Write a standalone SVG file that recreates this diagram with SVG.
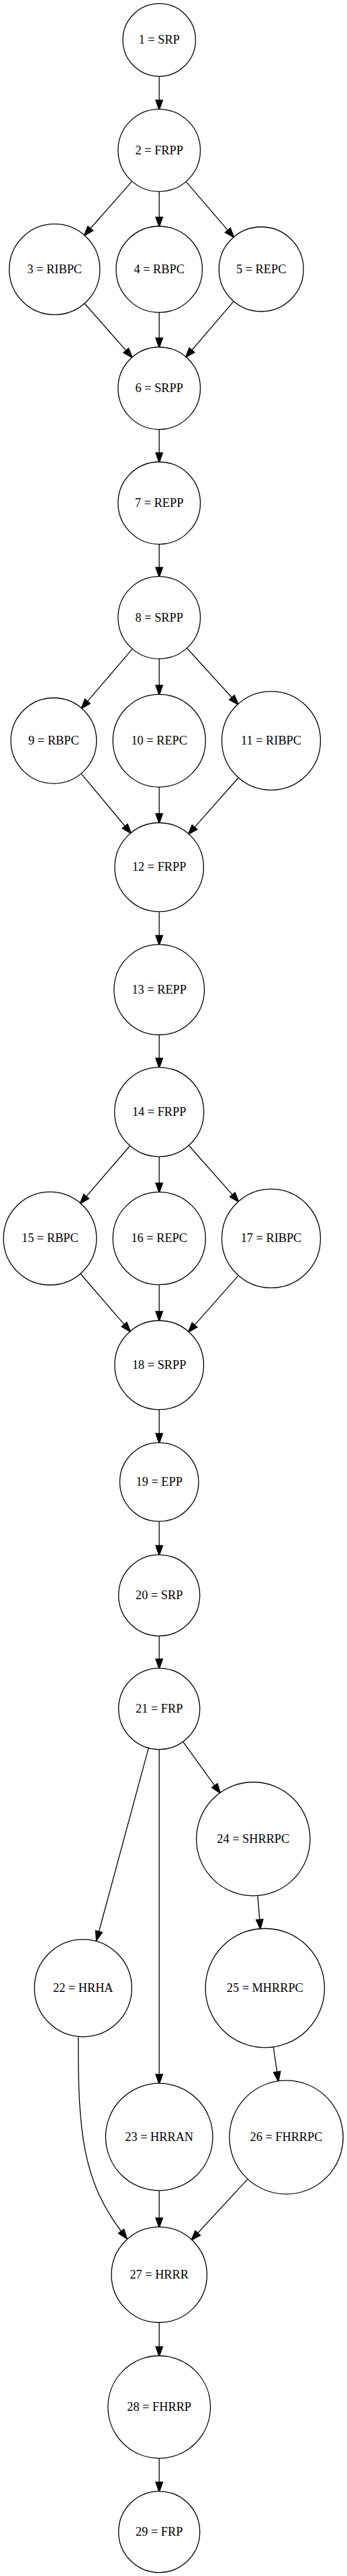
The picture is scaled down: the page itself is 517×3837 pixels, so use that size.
<svg xmlns="http://www.w3.org/2000/svg" width="517" height="3837" viewBox="0 0 517 3837">
<style>
.n circle{fill:#fff;stroke:#000;stroke-width:1.3}
.n text{font-family:"Liberation Serif","Times New Roman",serif;font-size:18.3px;text-anchor:middle;fill:#000}
#edges path{fill:none;stroke:#000;stroke-width:1.3;marker-end:url(#ah)}
</style>
<defs>
<marker id="ah" markerUnits="userSpaceOnUse" markerWidth="20" markerHeight="20" viewBox="-2 -7 18 14" refX="0" refY="0" orient="auto" overflow="visible">
<path d="M0,-4.6 L13,0 L0,4.6 Z" fill="#000" stroke="#000" stroke-width="1.3"/>
</marker>
</defs>
<rect width="517" height="3837" fill="#fff"/>
<g id="edges">
<path d="M237.2,114.2 L237.2,149.2"/>
<path d="M196.4,270.4 L134.8,340.3"/>
<path d="M237.2,285.8 L237.2,323.5"/>
<path d="M277.5,270.9 L339.3,342.9"/>
<path d="M126.2,452.2 L187.8,522.1"/>
<path d="M237.2,465.9 L237.2,503.5"/>
<path d="M347.9,449.2 L285.9,521.5"/>
<path d="M237.2,640.1 L237.2,674.5"/>
<path d="M237.2,811.1 L237.2,845.2"/>
<path d="M197,966.9 L130.4,1044.6"/>
<path d="M237.2,981.8 L237.2,1020.8"/>
<path d="M278.8,965.7 L345.5,1039"/>
<path d="M121.2,1152.7 L186.2,1230.5"/>
<path d="M237.2,1172.8 L237.2,1212"/>
<path d="M354.9,1158.7 L290,1232.1"/>
<path d="M237.2,1358.4 L237.2,1393.4"/>
<path d="M237.2,1542 L237.2,1576.3"/>
<path d="M193.4,1707 L128.6,1782.1"/>
<path d="M237.2,1723.3 L237.2,1762.2"/>
<path d="M281.6,1706.5 L346.3,1779.6"/>
<path d="M120.1,1897.5 L185.1,1972.9"/>
<path d="M237.2,1914.2 L237.2,1953.5"/>
<path d="M355,1900.1 L290,1973.6"/>
<path d="M237.2,2100.1 L237.2,2135.3"/>
<path d="M237.2,2266.7 L237.2,2302.3"/>
<path d="M237.2,2437.3 L237.2,2471.3"/>
<path d="M221.2,2604.2 L147.4,2877"/>
<path d="M237.2,2606.3 L237.2,3089.7"/>
<path d="M272.9,2594.7 L319.8,2659.6"/>
<path d="M384,2824.1 L386.8,2859.3"/>
<path d="M407.4,3049.5 L412.7,3086.2"/>
<path d="M116.7,3034.3 C115.8,3180 125,3250 180.6,3323.5"/>
<path d="M237.2,3263.3 L237.2,3303.6"/>
<path d="M368.7,3246.1 L294.7,3326.2"/>
<path d="M237.2,3460 L237.2,3495.5"/>
<path d="M237.2,3662.1 L237.2,3697.3"/>
</g>
<g id="node1" class="n"><circle cx="237.2" cy="59.5" r="54.2"/><text x="237.2" y="65">1 = SRP</text></g>
<g id="node2" class="n"><circle cx="237.2" cy="224" r="61.3"/><text x="237.2" y="229.5">2 = FRPP</text></g>
<g id="node3" class="n"><circle cx="81.3" cy="401.2" r="67.5"/><text x="81.3" y="406.7">3 = RIBPC</text></g>
<g id="node4" class="n"><circle cx="237.2" cy="401.2" r="64.2"/><text x="237.2" y="406.7">4 = RBPC</text></g>
<g id="node5" class="n"><circle cx="389.2" cy="401" r="63"/><text x="389.2" y="406.5">5 = REPC</text></g>
<g id="node6" class="n"><circle cx="237.2" cy="578.3" r="61.3"/><text x="237.2" y="583.8">6 = SRPP</text></g>
<g id="node7" class="n"><circle cx="237.2" cy="749.3" r="61.3"/><text x="237.2" y="754.8">7 = REPP</text></g>
<g id="node8" class="n"><circle cx="237.2" cy="920" r="61.3"/><text x="237.2" y="925.5">8 = SRPP</text></g>
<g id="node9" class="n"><circle cx="80" cy="1103.3" r="63.8"/><text x="80" y="1108.8">9 = RBPC</text></g>
<g id="node10" class="n"><circle cx="237.2" cy="1103.3" r="69"/><text x="237.2" y="1108.8">10 = REPC</text></g>
<g id="node11" class="n"><circle cx="404" cy="1103.3" r="73.5"/><text x="404" y="1108.8">11 = RIBPC</text></g>
<g id="node12" class="n"><circle cx="237.2" cy="1291.7" r="66.2"/><text x="237.2" y="1297.2">12 = FRPP</text></g>
<g id="node13" class="n"><circle cx="237.2" cy="1474.2" r="67.3"/><text x="237.2" y="1479.7">13 = REPP</text></g>
<g id="node14" class="n"><circle cx="237.2" cy="1656.3" r="66.5"/><text x="237.2" y="1661.8">14 = FRPP</text></g>
<g id="node15" class="n"><circle cx="74.5" cy="1844.7" r="69.3"/><text x="74.5" y="1850.2">15 = RBPC</text></g>
<g id="node16" class="n"><circle cx="237.2" cy="1844.7" r="69"/><text x="237.2" y="1850.2">16 = REPC</text></g>
<g id="node17" class="n"><circle cx="404" cy="1844.7" r="73.5"/><text x="404" y="1850.2">17 = RIBPC</text></g>
<g id="node18" class="n"><circle cx="237.2" cy="2033.3" r="66.3"/><text x="237.2" y="2038.8">18 = SRPP</text></g>
<g id="node19" class="n"><circle cx="237.2" cy="2207.5" r="58.7"/><text x="237.2" y="2213">19 = EPP</text></g>
<g id="node20" class="n"><circle cx="237.2" cy="2376.3" r="60.5"/><text x="237.2" y="2381.8">20 = SRP</text></g>
<g id="node21" class="n"><circle cx="237.2" cy="2545.3" r="60.5"/><text x="237.2" y="2550.8">21 = FRP</text></g>
<g id="node22" class="n"><circle cx="123.8" cy="2961.3" r="72.5"/><text x="123.8" y="2966.8">22 = HRHA</text></g>
<g id="node23" class="n"><circle cx="237.2" cy="3183" r="79.8"/><text x="237.2" y="3188.5">23 = HRRAN</text></g>
<g id="node24" class="n"><circle cx="377.3" cy="2739.2" r="84.7"/><text x="377.3" y="2744.7">24 = SHRRPC</text></g>
<g id="node25" class="n"><circle cx="394.8" cy="2961.2" r="88.7"/><text x="394.8" y="2966.7">25 = MHRRPC</text></g>
<g id="node26" class="n"><circle cx="426.5" cy="3183.5" r="84.7"/><text x="426.5" y="3189">26 = FHRRPC</text></g>
<g id="node27" class="n"><circle cx="237.2" cy="3388.3" r="71.2"/><text x="237.2" y="3393.8">27 = HRRR</text></g>
<g id="node28" class="n"><circle cx="237.2" cy="3585.3" r="76.3"/><text x="237.2" y="3590.8">28 = FHRRP</text></g>
<g id="node29" class="n"><circle cx="237.2" cy="3771.3" r="60.5"/><text x="237.2" y="3776.8">29 = FRP</text></g>
</svg>
